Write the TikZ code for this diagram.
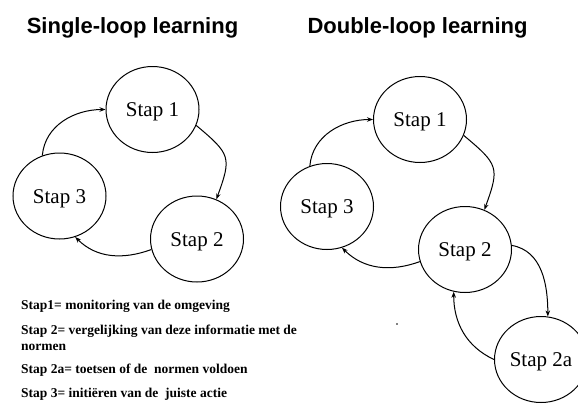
\documentclass[tikz,border=0pt]{standalone}
\usepackage{fontspec}
\setmainfont{Liberation Serif}
\newfontfamily\titlefont{Liberation Sans}
\usetikzlibrary{shapes.geometric,arrows.meta}
\begin{document}
\begin{tikzpicture}[x=1pt,y=1pt,
  stapnode/.style={ellipse,draw,line width=1pt,minimum width=93pt,minimum height=86pt,inner sep=0pt,
    font=\fontsize{21}{23}\selectfont,text height=14pt,text depth=0pt},
  titletext/.style={anchor=base,font=\titlefont\bfseries\fontsize{22}{24}\selectfont},
  legendtext/.style={anchor=base west,inner sep=0pt,font=\bfseries\fontsize{13.5}{15}\selectfont},
  flow/.style={line width=1pt,-{Stealth[length=6pt,width=4.5pt]}}]
\useasboundingbox (0,0) rectangle (578,-410);
\fill[white] (0,0) rectangle (578,-410);
% titles
\node[titletext] (t1) at (132.5,-33) {Single-loop learning};
\node[titletext] (t2) at (417.5,-33) {Double-loop learning};
% left diagram
\node[stapnode] (L1) at (152.5,-109.5) {Stap 1};
\node[stapnode] (L3) at (59.5,-196) {Stap 3};
\node[stapnode] (L2) at (197,-239) {Stap 2};
\draw[flow] (L3.113) to[out=85,in=180] (L1.180);
\draw[flow] (L1.-20) to[out=-40,in=70,looseness=1.5] (L2.64);
\draw[flow] (L2.193) to[out=200,in=-45] (L3.-69);
% right diagram
\node[stapnode] (R1) at (420,-119.5) {Stap 1};
\node[stapnode] (R3) at (327,-206.5) {Stap 3};
\node[stapnode] (R2) at (465,-249.5) {Stap 2};
\node[stapnode] (R2a) at (541,-359.5) {Stap 2a};
\draw[flow] (R3.113) to[out=85,in=180] (R1.180);
\draw[flow] (R1.-20) to[out=-40,in=70,looseness=1.5] (R2.64);
\draw[flow] (R2.195) to[out=200,in=-45] (R3.-70);
\draw[flow] (R2.5) to[out=-10,in=90] (R2a.81);
\draw[flow] (R2a.180) to[out=155,in=-90] (R2.-105);
\fill (397,-324) circle (0.8);
% legend
\node[legendtext] (n1) at (21,-309) {Stap1= monitoring van de omgeving};
\node[legendtext] (n2) at (21,-334) {Stap 2= vergelijking van deze informatie met de};
\node[legendtext] (n3) at (21,-350) {normen};
\node[legendtext] (n4) at (21,-373) {Stap 2a= toetsen of de\ \ normen voldoen};
\node[legendtext] (n5) at (21,-397) {Stap 3= initiëren van de\ \ juiste actie};
\end{tikzpicture}
\end{document}
